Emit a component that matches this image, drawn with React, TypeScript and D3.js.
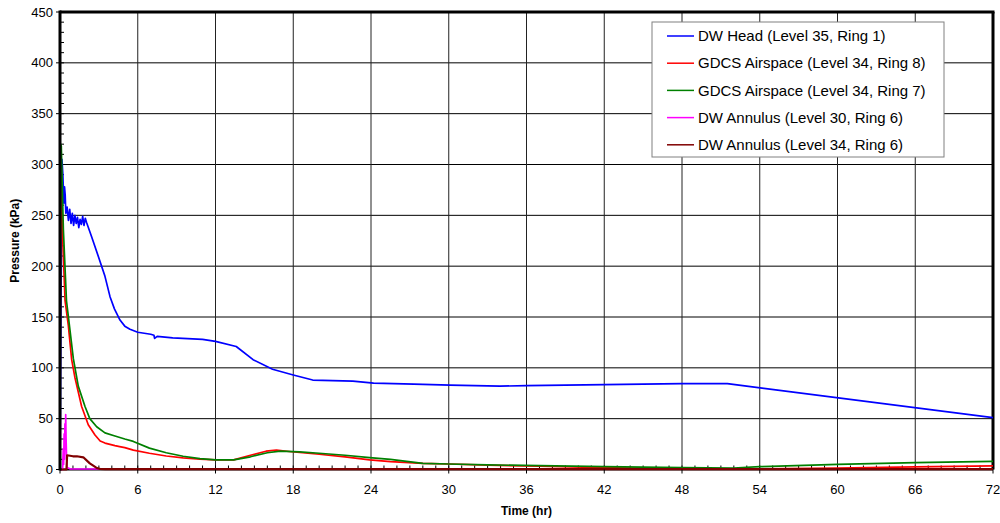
import React from "react";
import * as d3 from "d3";

type P = [number, number];

const xTicks = [0, 6, 12, 18, 24, 30, 36, 42, 48, 54, 60, 66, 72];
const yTicks = [0, 50, 100, 150, 200, 250, 300, 350, 400, 450];

const seriesNames = [
  "DW Head (Level 35, Ring 1)",
  "GDCS Airspace (Level 34, Ring 8)",
  "GDCS Airspace (Level 34, Ring 7)",
  "DW Annulus (Level 30, Ring 6)",
  "DW Annulus (Level 34, Ring 6)",
];
const seriesColors = ["#0000ff", "#ff0000", "#008000", "#ff00ff", "#800000"];

const dwHead: P[] = [
  [0, 0], [0.15, 305], [0.22, 290], [0.3, 262], [0.35, 278], [0.4, 270], [0.45, 252],
  [0.55, 258], [0.65, 245], [0.75, 256], [0.85, 242], [0.95, 252], [1.05, 240],
  [1.15, 250], [1.25, 242], [1.35, 248], [1.45, 238], [1.55, 246], [1.65, 241],
  [1.75, 249], [1.85, 240], [1.95, 247], [2.05, 243], [2.16, 239], [2.44, 229],
  [2.96, 209.5], [3.47, 190], [3.86, 170], [4.2, 158], [4.63, 147], [5.0, 141], [5.4, 138],
  [6, 135], [7, 133], [7.25, 132], [7.3, 129], [7.5, 131], [8.7, 129.5], [11, 128],
  [12, 126], [13.6, 121], [14.9, 108], [16.4, 98.6], [18, 93], [19.5, 88], [22.6, 87],
  [24.2, 85], [27.3, 84], [30.1, 83], [33.95, 82], [36, 82.5], [42, 83.5], [48, 84.5],
  [51.5, 84.5], [72, 51],
];

const gdcsRing8: P[] = [
  [0, 0], [0.05, 302], [0.1, 298], [0.18, 236], [0.39, 166], [0.64, 142], [0.9, 108],
  [1.16, 90], [1.67, 62], [2.18, 44], [2.7, 34], [3.1, 28], [3.47, 26], [4.24, 23.5],
  [4.6, 22.5], [5, 21.5], [5.66, 19], [6.9, 16], [8.2, 13.3], [9.5, 11.5], [10.8, 10.3],
  [12, 9.5], [13.4, 9.5], [14.7, 14], [15.9, 18], [16.7, 19], [17.7, 17.7], [18.5, 16.7],
  [20, 15], [22, 12.5], [23.9, 9.4], [25.5, 7.7], [28, 6], [30, 5.4], [33, 4.3],
  [37, 3.2], [42, 1.8], [48, 0.5], [52, 0.3], [60, 1.5], [66, 2.5], [72, 3.5],
];

const gdcsRing7: P[] = [
  [0, 0], [0.05, 320], [0.1, 318], [0.26, 236], [0.5, 166], [0.77, 137], [1.03, 109],
  [1.41, 82], [1.93, 62], [2.3, 50], [2.83, 42], [3.47, 36], [4.24, 33], [5, 30],
  [5.66, 27.6], [6.9, 21], [8.2, 16.5], [9.5, 13], [10.8, 10.7], [12, 9.5], [13.4, 9.4],
  [14.7, 12.5], [16, 16.5], [17, 18], [18.5, 17.3], [20, 16], [22, 14], [23.9, 11.6],
  [25.5, 10], [28, 6], [30, 5.4], [33, 4.5], [37, 3.8], [42, 2.8], [48, 1.8], [52, 1.5],
  [54, 2.8], [60, 5.1], [66, 6.7], [72, 8],
];

const dwAnnulus30: P[] = [
  [0, 0], [0.2, 0], [0.25, 20], [0.28, 5], [0.32, 35], [0.35, 10], [0.38, 45],
  [0.41, 20], [0.44, 54], [0.47, 30], [0.5, 15], [0.55, 2], [0.8, 0.5], [72, 0.5],
];

const dwAnnulus34: P[] = [
  [0, 0], [0.5, 0], [0.55, 14], [1.0, 13], [1.3, 13], [1.8, 12], [2.3, 6], [2.8, 1.8],
  [3.1, 0.5], [3.5, 0.3], [72, 0.3],
];

const allSeries = [dwHead, gdcsRing8, gdcsRing7, dwAnnulus30, dwAnnulus34];
const seriesWidths = [1.7, 1.7, 1.7, 1.7, 2.2];

export default function App() {
  const W = 1000, H = 523;
  const L = 60, R = 993, T = 12, B = 469.5;
  const x = d3.scaleLinear().domain([0, 72]).range([L, R]);
  const y = d3.scaleLinear().domain([0, 450]).range([B, T]);
  const line = d3.line<P>().x((d) => x(d[0])).y((d) => y(d[1]));
  const font = "'Liberation Sans', Arial, sans-serif";
  const minorX = d3.range(0, 73, 1);
  const minorY = d3.range(0, 451, 10);

  return (
    <svg width={W} height={H} style={{ position: "absolute", left: 0, top: 0, background: "#fff" }} fontFamily={font}>
      <defs>
        <clipPath id="plot">
          <rect x={L} y={T} width={R - L} height={B - T + 2} />
        </clipPath>
      </defs>
      <rect x={0} y={0} width={W} height={H} fill="#fff" />
      {/* grid */}
      {yTicks.map((t) => (
        <line key={"gy" + t} x1={L} x2={R} y1={y(t)} y2={y(t)} stroke="#000" strokeWidth={1} />
      ))}
      {xTicks.map((t) => (
        <line key={"gx" + t} x1={x(t)} x2={x(t)} y1={T} y2={B} stroke="#222" strokeWidth={1} />
      ))}
      {/* minor ticks inside */}
      {minorY.map((t) => (
        <line key={"my" + t} x1={L} x2={L + 4} y1={y(t)} y2={y(t)} stroke="#000" strokeWidth={1} />
      ))}
      {minorX.map((t) => (
        <line key={"mx" + t} x1={x(t)} x2={x(t)} y1={B} y2={B - 4} stroke="#000" strokeWidth={1} />
      ))}
      {/* axis frame */}
      <line x1={L} x2={R} y1={B} y2={B} stroke="#000" strokeWidth={2} />
      <line x1={L} x2={R + 1.5} y1={T} y2={T} stroke="#000" strokeWidth={3} />
      <line x1={R} x2={R} y1={T} y2={B} stroke="#000" strokeWidth={3} />
      {/* series */}
      <g clipPath="url(#plot)">
        {allSeries.map((s, i) => (
          <path key={"s" + i} d={line(s) || ""} fill="none" stroke={seriesColors[i]} strokeWidth={seriesWidths[i]} strokeLinejoin="round" />
        ))}
      </g>
      <line x1={L} x2={L} y1={T - 1.5} y2={B + 1} stroke="#000" strokeWidth={3} />
      {/* major ticks outside */}
      {yTicks.map((t) => (
        <line key={"ty" + t} x1={L - 4} x2={L} y1={y(t)} y2={y(t)} stroke="#000" strokeWidth={1} />
      ))}
      {xTicks.map((t) => (
        <line key={"tx" + t} x1={x(t)} x2={x(t)} y1={B} y2={B + 4} stroke="#000" strokeWidth={1} />
      ))}
      {/* tick labels */}
      {yTicks.map((t) => (
        <text key={"ly" + t} x={L - 7} y={y(t)} dy="0.35em" textAnchor="end" fontSize={13} fill="#000">
          {t}
        </text>
      ))}
      {xTicks.map((t) => (
        <text key={"lx" + t} x={x(t)} y={B + 20} dy="0.35em" textAnchor="middle" fontSize={13} fill="#000">
          {t}
        </text>
      ))}
      {/* axis titles */}
      <text x={(L + R) / 2} y={515} textAnchor="middle" fontSize={12} fontWeight="bold" fill="#000">
        Time (hr)
      </text>
      <text transform={`translate(19, ${(T + B) / 2}) rotate(-90)`} textAnchor="middle" fontSize={12} fontWeight="bold" fill="#000">
        Pressure (kPa)
      </text>
      {/* legend */}
      <rect x={652} y={22} width={292} height={135} fill="#fff" stroke="#808080" strokeWidth={1} />
      {seriesNames.map((n, i) => (
        <g key={"lg" + i} transform={`translate(0, ${36 + i * 27.2})`}>
          <line x1={667} x2={694} y1={0} y2={0} stroke={seriesColors[i]} strokeWidth={1.5} />
          <text x={698} y={0} dy="0.35em" fontSize={15} fill="#000">
            {n}
          </text>
        </g>
      ))}
    </svg>
  );
}
